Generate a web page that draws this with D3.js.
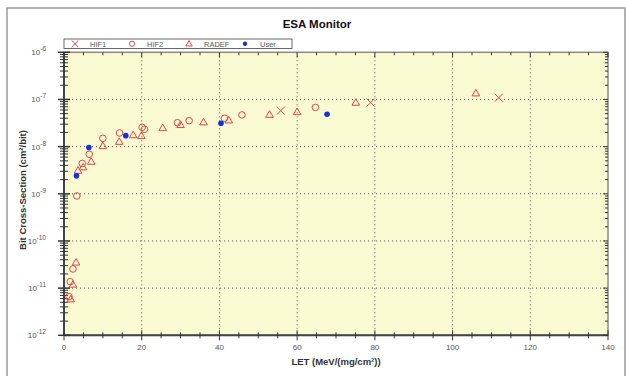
<!DOCTYPE html>
<html>
<head>
<meta charset="utf-8">
<script src="https://cdn.jsdelivr.net/npm/d3@7"></script>
<style>
  body { margin: 0; background: #fff; }
  text { font-family: "Liberation Sans", Arial, sans-serif; }
</style>
</head>
<body>
<svg id="chart" width="626" height="376"></svg>
<script>
// data (LET, cross-section)
const hif1 = [[55.8, 5.8e-8], [78.9, 8.6e-8], [111.9, 1.09e-7]];
const hif2 = [[1.3, 6.6e-12], [1.6, 1.37e-11], [2.3, 2.55e-11], [3.3, 9.0e-10], [4.7, 4.4e-9],
  [6.5, 6.9e-9], [10.0, 1.5e-8], [14.3, 1.95e-8], [20.1, 2.57e-8], [20.7, 2.33e-8],
  [29.2, 3.22e-8], [32.2, 3.55e-8], [41.3, 4.0e-8], [45.8, 4.7e-8], [64.7, 6.8e-8]];
const radef = [[1.75, 5.8e-12], [2.3, 1.19e-11], [3.1, 3.5e-11], [3.6, 3.1e-9], [4.9, 3.65e-9],
  [7.0, 4.8e-9], [10.0, 1.03e-8], [14.2, 1.27e-8], [17.8, 1.75e-8], [19.9, 1.68e-8],
  [25.4, 2.48e-8], [30.0, 2.88e-8], [35.9, 3.28e-8], [42.4, 3.61e-8], [52.9, 4.75e-8],
  [60.0, 5.42e-8], [75.1, 8.55e-8], [106.0, 1.35e-7]];
const user = [[3.2, 2.4e-9], [6.4, 9.6e-9], [15.9, 1.71e-8], [40.4, 3.13e-8], [67.7, 4.85e-8]];
const seriesNames = ["HIF1", "HIF2", "RADEF", "User"];
const xTicks = [0, 20, 40, 60, 80, 100, 120, 140];
const yDecades = [-12, -11, -10, -9, -8, -7, -6];

const svg = d3.select("#chart");
const pLeft = 64, pRight = 608, pTop = 52.3, pBottom = 335.3;
const red = "#e04646", blue = "#1530e0";

const x = d3.scaleLinear().domain([0, 140]).range([pLeft, pRight]);
const y = d3.scaleLog().domain([1e-12, 1e-6]).range([pBottom, pTop]);

// outer frame
svg.append("rect").attr("x", 7).attr("y", 8).attr("width", 618).attr("height", 380)
  .attr("fill", "#fff").attr("stroke", "#9a9a9a").attr("stroke-width", 1.5);

// plot area
svg.append("rect").attr("x", pLeft).attr("y", pTop)
  .attr("width", pRight - pLeft).attr("height", pBottom - pTop)
  .attr("fill", "#fafad2");

// grid
const grid = svg.append("g").attr("stroke", "#555").attr("stroke-width", 1)
  .attr("stroke-dasharray", "1,3");
xTicks.slice(1, -1).forEach(t => {
  grid.append("line").attr("x1", x(t)).attr("x2", x(t)).attr("y1", pTop).attr("y2", pBottom);
});
yDecades.slice(1, -1).forEach(d => {
  grid.append("line").attr("x1", pLeft).attr("x2", pRight)
    .attr("y1", y(Math.pow(10, d))).attr("y2", y(Math.pow(10, d)));
});

// frame of plot
svg.append("rect").attr("x", pLeft).attr("y", pTop)
  .attr("width", pRight - pLeft).attr("height", pBottom - pTop)
  .attr("fill", "none").attr("stroke", "#8a8a8a").attr("stroke-width", 1.5);
svg.append("line").attr("x1", pLeft).attr("x2", pLeft).attr("y1", pTop).attr("y2", pBottom)
  .attr("stroke", "#444").attr("stroke-width", 2);
svg.append("line").attr("x1", pLeft).attr("x2", pRight).attr("y1", pBottom).attr("y2", pBottom)
  .attr("stroke", "#444").attr("stroke-width", 2);

// ticks
const ticks = svg.append("g").attr("stroke", "#333").attr("stroke-width", 1);
d3.range(0, 141, 5).forEach(t => {
  const major = t % 20 === 0;
  ticks.append("line").attr("x1", x(t)).attr("x2", x(t))
    .attr("y1", pBottom - (major ? 5 : 3)).attr("y2", pBottom + (major ? 5 : 3));
  ticks.append("line").attr("x1", x(t)).attr("x2", x(t))
    .attr("y1", pTop).attr("y2", pTop + (major ? 5 : 3));
});
y.ticks().forEach(v => {
  const major = Math.abs(Math.log10(v) - Math.round(Math.log10(v))) < 1e-6;
  const yy = y(v);
  ticks.append("line").attr("x1", pLeft - (major ? 6 : 4)).attr("x2", pLeft + (major ? 6 : 4))
    .attr("y1", yy).attr("y2", yy).attr("stroke-width", major ? 1.5 : 1);
  ticks.append("line").attr("x1", pRight - (major ? 5 : 3)).attr("x2", pRight)
    .attr("y1", yy).attr("y2", yy);
});

// tick labels
svg.append("g").selectAll("text").data(xTicks).join("text")
  .attr("x", d => x(d)).attr("y", 350).attr("text-anchor", "middle")
  .attr("font-size", 8).attr("fill", "#555").text(d => d);

const yl = svg.append("g").selectAll("text").data(yDecades).join("text")
  .attr("x", 46).attr("y", d => y(Math.pow(10, d)) + 3)
  .attr("text-anchor", "end").attr("font-size", 8).attr("fill", "#555");
yl.append("tspan").text("10");
yl.append("tspan").attr("dy", -4).attr("font-size", 6.5).text(d => "-" + Math.abs(d));

// titles
svg.append("text").attr("x", 317).attr("y", 28).attr("text-anchor", "middle")
  .attr("font-size", 11.5).attr("font-weight", "bold").attr("fill", "#111").text("ESA Monitor");
svg.append("text").attr("x", 336).attr("y", 365).attr("text-anchor", "middle")
  .attr("font-size", 9.5).attr("font-weight", "bold").attr("fill", "#333")
  .text("LET (MeV/(mg/cm\u00b2))");
svg.append("text").attr("transform", "translate(26,190) rotate(-90)").attr("text-anchor", "middle")
  .attr("font-size", 9.5).attr("font-weight", "bold").attr("fill", "#333")
  .text("Bit Cross-Section (cm\u00b2/bit)");

// markers
function cross(g, cx, cy, s = 4) {
  g.append("path").attr("d", `M${cx - s},${cy - s}L${cx + s},${cy + s}M${cx - s},${cy + s}L${cx + s},${cy - s}`)
    .attr("stroke", red).attr("stroke-width", 1).attr("fill", "none");
}
function circle(g, cx, cy, s = 3.3) {
  g.append("circle").attr("cx", cx).attr("cy", cy).attr("r", s)
    .attr("fill", "none").attr("stroke", red).attr("stroke-width", 1);
}
function tri(g, cx, cy, s = 4) {
  g.append("path").attr("d", `M${cx},${cy - s}L${cx + s * 0.95},${cy + s * 0.65}L${cx - s * 0.95},${cy + s * 0.65}Z`)
    .attr("fill", "none").attr("stroke", red).attr("stroke-width", 1);
}
function dot(g, cx, cy, s = 2.8) {
  g.append("circle").attr("cx", cx).attr("cy", cy).attr("r", s).attr("fill", blue);
}
const marks = svg.append("g");
hif2.forEach(d => circle(marks, x(d[0]), y(d[1])));
radef.forEach(d => tri(marks, x(d[0]), y(d[1])));
hif1.forEach(d => cross(marks, x(d[0]), y(d[1])));
user.forEach(d => dot(marks, x(d[0]), y(d[1])));

// legend
const lg = svg.append("g");
lg.append("rect").attr("x", 64).attr("y", 39).attr("width", 228).attr("height", 9.5)
  .attr("fill", "#fff").attr("stroke", "#444").attr("stroke-width", 0.8);
const lx = [75, 132, 189, 245];
const drawers = [cross, circle, tri, dot];
const lsize = [3.3, 2.6, 3.3, 2.2];
seriesNames.forEach((n, i) => {
  drawers[i](lg, lx[i], 43.8, lsize[i]);
  lg.append("text").attr("x", lx[i] + 15).attr("y", 46.5).attr("font-size", 7.5)
    .attr("fill", "#555").text(n);
});
</script>
</body>
</html>
